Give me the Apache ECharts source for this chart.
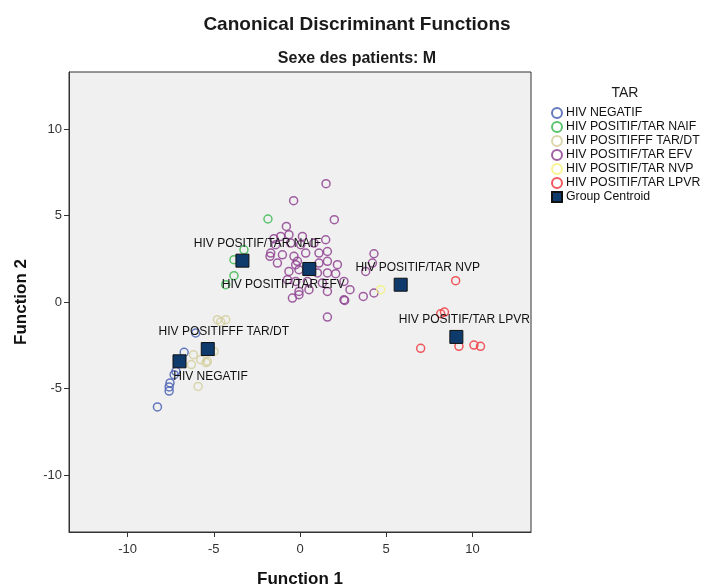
<!DOCTYPE html>
<html>
<head>
<meta charset="utf-8">
<script src="https://cdn.jsdelivr.net/npm/echarts@6/dist/echarts.min.js"></script>
<style>
  html, body { margin: 0; padding: 0; background: #fff; }
  #chart { width: 703px; height: 587px; }
</style>
</head>
<body>
<div id="chart"></div>
<script>
// discriminant scores: [function 1, function 2]
const hivNegatif = [
  [-6.05, -1.79], [-6.72, -2.91], [-7.20, -4.01], [-7.30, -4.20],
  [-7.54, -4.68], [-7.59, -4.91], [-7.59, -5.15], [-8.27, -6.07]
];
const tarNaif = [
  [-1.86, 4.80], [-3.25, 3.02], [-3.83, 2.45], [-3.83, 1.52], [-4.31, 1.00]
];
const tarDt = [
  [-4.79, -1.02], [-4.31, -1.02], [-4.60, -1.15], [-6.18, -3.05], [-5.76, -3.34],
  [-5.37, -3.43], [-4.99, -2.86], [-5.91, -4.88], [-6.30, -3.62], [-5.45, -3.50]
];
const tarEfv = [
  [1.51, 6.84], [-0.37, 5.86], [1.99, 4.76], [-0.79, 4.37], [0.14, 3.79],
  [-0.64, 3.89], [-1.12, 3.79], [-1.41, 3.31], [-0.54, 3.41], [0.04, 3.31],
  [0.81, 3.41], [1.49, 3.60], [-1.70, 2.83], [-1.02, 2.73], [-0.35, 2.64],
  [0.33, 2.83], [1.10, 2.83], [1.59, 2.92], [-1.31, 2.25], [-0.25, 2.16],
  [1.10, 2.25], [1.59, 2.35], [2.17, 2.16], [-0.64, 1.77], [-0.06, 1.87],
  [1.01, 1.68], [1.59, 1.68], [2.07, 1.64], [-0.73, 1.29], [-0.25, 1.19],
  [0.43, 1.19], [1.30, 1.10], [2.55, 1.19], [-0.44, 0.23], [-0.06, 0.61],
  [0.52, 0.71], [1.59, 0.61], [2.55, 0.13], [2.90, 0.71], [2.59, 0.09],
  [3.67, 0.32], [4.29, 0.52], [4.29, 2.79], [4.20, 2.25], [3.81, 1.77],
  [1.59, -0.87], [-1.51, 3.66], [-1.74, 2.64], [-0.15, 2.35], [-0.06, 0.42]
];
const tarNvp = [
  [4.68, 0.71]
];
const tarLpvr = [
  [9.03, 1.23], [8.16, -0.68], [8.38, -0.58], [7.00, -2.68],
  [9.22, -2.56], [10.09, -2.49], [10.47, -2.56]
];

const groupNames = [
  'HIV NEGATIF', 'HIV POSITIF/TAR NAIF', 'HIV POSITIFFF TAR/DT',
  'HIV POSITIF/TAR EFV', 'HIV POSITIF/TAR NVP', 'HIV POSITIF/TAR LPVR'
];
const groupPoints = [hivNegatif, tarNaif, tarDt, tarEfv, tarNvp, tarLpvr];
const groupColors = ['#4a62b4', '#3fba55', '#d3cf9e', '#8f4392', '#f6f27e', '#ee3c42'];
const centroids = [
  [-6.99, -3.43], [-3.34, 2.39], [-5.35, -2.72],
  [0.54, 1.91], [5.84, 1.00], [9.07, -2.02]
];
// where each centroid label sits relative to its square
const labelOffsets = [[31, 15], [15, -17], [16, -17], [-26, 16], [17, -17], [8, -17]];
const tickValues = [-10, -5, 0, 5, 10];

const FONT = 'Liberation Sans, Arial, sans-serif';
const chart = echarts.init(document.getElementById('chart'));

const pointSeries = groupNames.map((name, i) => ({
  name: name,
  type: 'scatter',
  data: groupPoints[i],
  symbol: 'circle',
  symbolSize: 8,
  itemStyle: {
    color: 'rgba(0,0,0,0)',
    borderColor: groupColors[i],
    borderWidth: 1.5,
    opacity: 0.85,
  },
  emphasis: { disabled: true },
}));

const centroidSeries = {
  name: 'Group Centroid',
  type: 'scatter',
  symbol: 'rect',
  symbolSize: 13,
  z: 5,
  itemStyle: { color: '#0e3a6c', borderColor: '#111', borderWidth: 1, opacity: 1 },
  label: {
    show: true,
    position: 'inside',
    color: '#111',
    fontFamily: FONT,
    fontSize: 12,
    formatter: (p) => p.name,
  },
  data: centroids.map((c, i) => ({
    name: groupNames[i],
    value: c,
    label: { offset: labelOffsets[i] },
  })),
  emphasis: { disabled: true },
};

const axisCommon = {
  type: 'value',
  nameLocation: 'middle',
  nameGap: 39,
  nameTextStyle: { fontFamily: FONT, fontSize: 17, fontWeight: 'bold', color: '#111' },
  splitLine: { show: false },
  axisLine: { show: true, onZero: false, lineStyle: { color: '#333', width: 1 } },
  axisTick: { show: true, length: 5, customValues: tickValues, lineStyle: { color: '#333' } },
  axisLabel: { fontFamily: FONT, fontSize: 13, color: '#333', customValues: tickValues, margin: 7 },
};

chart.setOption({
  animation: false,
  backgroundColor: '#fff',
  grid: {
    left: 69, right: 172, top: 72, bottom: 55,
    outerBoundsMode: 'none',
    containLabel: false,
    show: true, backgroundColor: '#f0f0f0', borderColor: '#333', borderWidth: 1,
  },
  xAxis: Object.assign({}, axisCommon, {
    name: 'Function 1', min: -13.4, max: 13.4,
    axisLabel: Object.assign({}, axisCommon.axisLabel, { margin: 11 }),
  }),
  yAxis: Object.assign({}, axisCommon, { name: 'Function 2', min: -13.3, max: 13.3 }),
  legend: {
    orient: 'vertical',
    left: 551,
    top: 106,
    padding: 0,
    itemWidth: 10,
    itemHeight: 10,
    itemGap: 0,
    textStyle: { fontFamily: FONT, fontSize: 12.3, lineHeight: 14, color: '#111', padding: [0, 0, 0, -1] },
    data: groupNames.concat(['Group Centroid']),
  },
  graphic: [
    {
      type: 'text', x: 357, y: 25,
      style: { text: 'Canonical Discriminant Functions', fontFamily: FONT, fontSize: 19,
        fontWeight: 'bold', fill: '#1a1a1a', align: 'center', verticalAlign: 'middle' },
    },
    {
      type: 'text', x: 357, y: 59,
      style: { text: 'Sexe des patients: M', fontFamily: FONT, fontSize: 16,
        fontWeight: 'bold', fill: '#1a1a1a', align: 'center', verticalAlign: 'middle' },
    },
    {
      type: 'text', x: 625, y: 93,
      style: { text: 'TAR', fontFamily: FONT, fontSize: 14,
        fill: '#1a1a1a', align: 'center', verticalAlign: 'middle' },
    },
  ],
  series: pointSeries.concat([centroidSeries]),
});
</script>
</body>
</html>
